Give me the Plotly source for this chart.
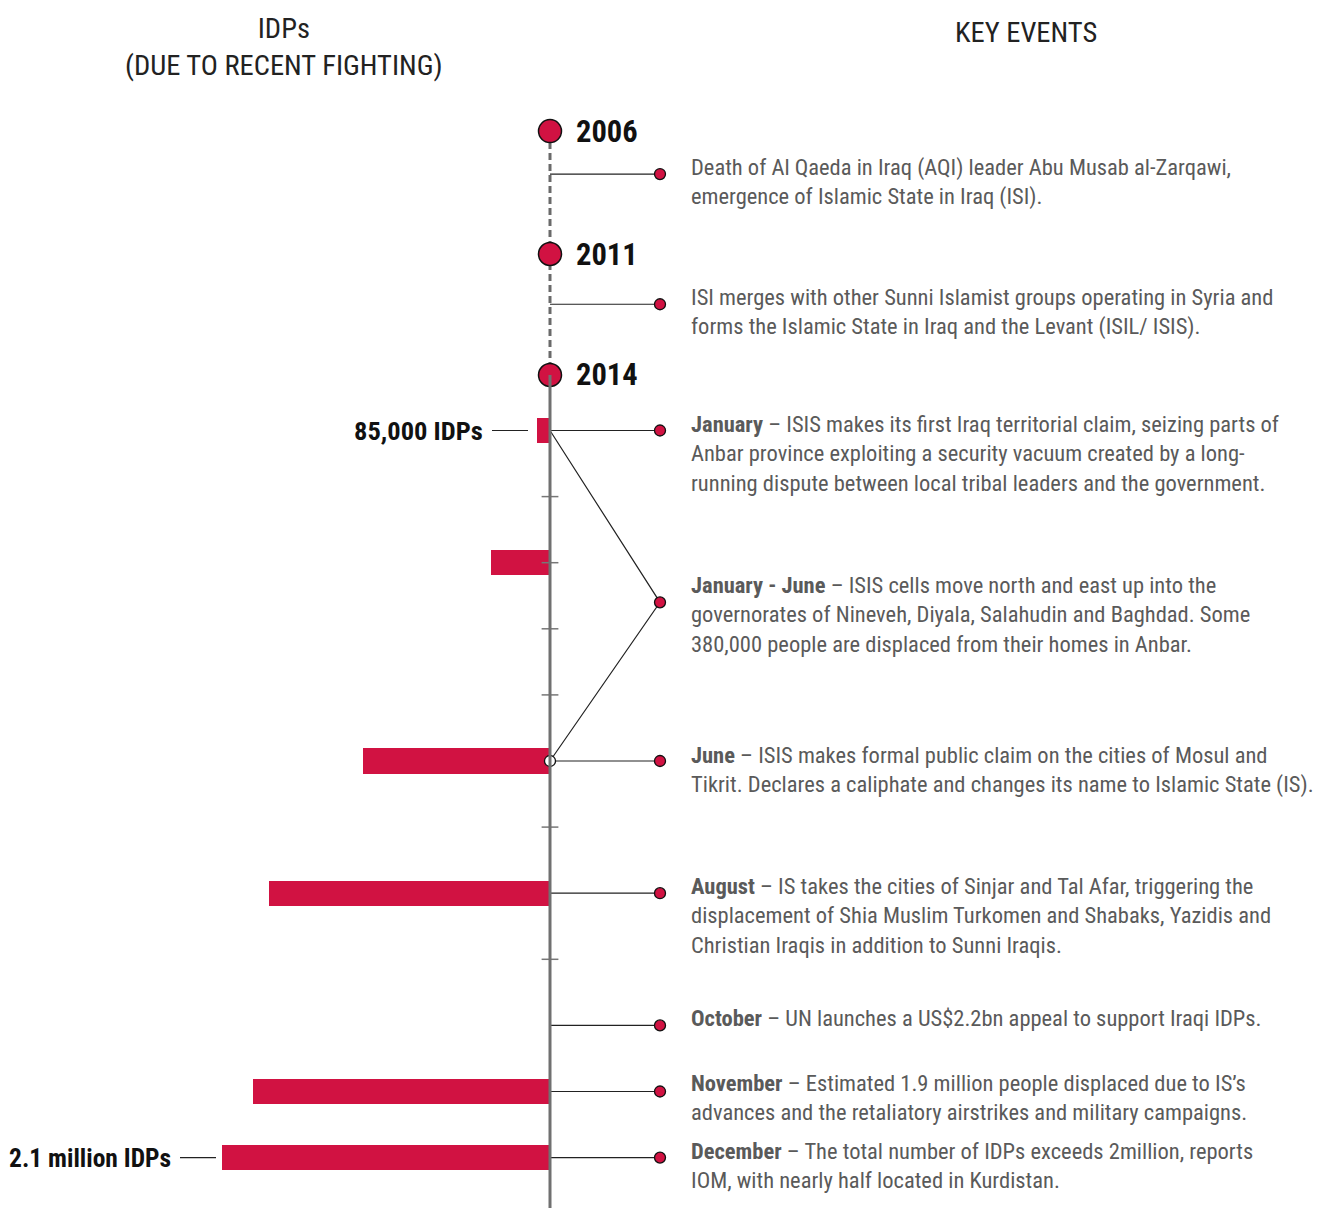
import plotly.graph_objects as go

# ---------------- data ----------------
months = ["Jan", "Feb", "Mar", "Apr", "May", "Jun", "Jul", "Aug", "Sep", "Oct", "Nov", "Dec"]
bar_months = [0, 2, 5, 7, 10, 11]              # month index (2014)
bar_idps_m = [0.085, 0.38, 1.2, 1.8, 1.9, 2.1]  # IDPs, millions
tick_months = [1, 2, 3, 4, 6, 8]

years = ["2006", "2011", "2014"]
year_pos = [-4.53, -2.67, -0.84]               # position on the timeline (month units)

event_pos = [-3.88, -1.91, 0, 2.6, 5, 7, 9, 10, 11]
event_text = [
    "Death of Al Qaeda in Iraq (AQI) leader Abu Musab al-Zarqawi,<br>emergence of Islamic State in Iraq (ISI).",
    "ISI merges with other Sunni Islamist groups operating in Syria and<br>forms the Islamic State in Iraq and the Levant (ISIL/ ISIS).",
    "<b>January</b> – ISIS makes its first Iraq territorial claim, seizing parts of<br>Anbar province exploiting a security vacuum created by a long-<br>running dispute between local tribal leaders and the government.",
    "<b>January - June</b> – ISIS cells move north and east up into the<br>governorates of Nineveh, Diyala, Salahudin and Baghdad. Some<br>380,000 people are displaced from their homes in Anbar.",
    "<b>June</b> – ISIS makes formal public claim on the cities of Mosul and<br>Tikrit. Declares a caliphate and changes its name to Islamic State (IS).",
    "<b>August</b> – IS takes the cities of Sinjar and Tal Afar, triggering the<br>displacement of Shia Muslim Turkomen and Shabaks, Yazidis and<br>Christian Iraqis in addition to Sunni Iraqis.",
    "<b>October</b> – UN launches a US$2.2bn appeal to support Iraqi IDPs.",
    "<b>November</b> – Estimated 1.9 million people displaced due to IS’s<br>advances and the retaliatory airstrikes and military campaigns.",
    "<b>December</b> – The total number of IDPs exceeds 2million, reports<br>IOM, with nearly half located in Kurdistan.",
]
range_event = (0, 5, 2.6)   # Jan-June event joins January and June

labels = ["85,000 IDPs", "2.1 million IDPs"]
label_months = [0, 11]

# ---------------- style / layout ----------------
W, H = 1327, 1208
RED = "#d11242"
TXT = "#5a5a5a"
FONT = "Roboto Condensed, Liberation Sans Narrow, Arial Narrow, Roboto, sans-serif"
PX_PER_MONTH = 66.1
Y0_PX = 430.5           # pixel row of January
PX_PER_M = 156.2        # pixels per million IDPs
X0_PX = 550             # pixel column of the timeline axis
DOT_X = -110 / PX_PER_M  # end of connectors (axis units, right of the line)

def py(px):
    return (px - Y0_PX) / PX_PER_MONTH

fig = go.Figure()

# bars
fig.add_trace(go.Bar(
    x=bar_idps_m, y=bar_months, orientation="h", width=0.38,
    marker=dict(color=RED, line=dict(width=0)), hoverinfo="skip", showlegend=False,
))

# axis line: dashed before 2014, solid after
fig.add_shape(type="line", xref="x", yref="y", x0=0, x1=0, y0=year_pos[0], y1=year_pos[2],
              line=dict(color="#6a6a6a", width=3, dash="7px,4px"), layer="below")
fig.add_shape(type="line", xref="x", yref="y", x0=0, x1=0, y0=year_pos[2], y1=py(H + 5),
              line=dict(color="#707070", width=3), layer="above")

# month ticks
fig.add_trace(go.Scatter(
    x=[0] * len(tick_months), y=tick_months, mode="markers",
    marker=dict(symbol="line-ew", size=12, line=dict(color="#777777", width=1.5)),
    hoverinfo="skip", showlegend=False,
))

# connectors
cx, cy = [], []
for p in event_pos:
    if p == range_event[2]:
        continue
    cx += [0, DOT_X, None]
    cy += [p, p, None]
a, b, m = range_event
cx += [0, DOT_X, 0, None]
cy += [a, m, b, None]
fig.add_trace(go.Scatter(x=cx, y=cy, mode="lines", line=dict(color="#222222", width=1.2),
                         hoverinfo="skip", showlegend=False))

# connector dots
fig.add_trace(go.Scatter(
    x=[DOT_X] * len(event_pos), y=event_pos, mode="markers",
    marker=dict(size=11, color=RED, line=dict(color="#111111", width=1.3)),
    hoverinfo="skip", showlegend=False,
))
# white junction dot at June
fig.add_trace(go.Scatter(
    x=[0], y=[range_event[1]], mode="markers",
    marker=dict(size=11, color="white", line=dict(color="#111111", width=1.3)),
    hoverinfo="skip", showlegend=False,
))
# year circles
fig.add_trace(go.Scatter(
    x=[0] * len(years), y=year_pos, mode="markers",
    marker=dict(size=23, color=RED, line=dict(color="#111111", width=1.5)),
    hoverinfo="skip", showlegend=False,
))

annotations = []
for yl, yp in zip(years, year_pos):
    annotations.append(dict(
        x=574 / W, xref="paper", y=yp, yref="y", xanchor="left", yanchor="middle",
        showarrow=False, text=f"<b>{yl}</b>",
        font=dict(family=FONT, size=30.5, color="#111111"),
    ))

# event texts
first_line_offset = [6, 6, 6, 16, 5, 6, 6, 8, 6]
for p, t, off in zip(event_pos, event_text, first_line_offset):
    line_px = Y0_PX + p * PX_PER_MONTH - off
    annotations.append(dict(
        x=689 / W, xref="paper", y=py(line_px - 16), yref="y",
        xanchor="left", yanchor="top", align="left", showarrow=False,
        text=t, font=dict(family=FONT, size=22.5, color=TXT),
    ))

# IDP labels with leader lines
label_right_px = [485, 173]
label_sizes = [26.5, 25.5]
lead_px = [(492, 528), (180, 216)]
for lab, mo, rp, fs, (l0, l1) in zip(labels, label_months, label_right_px, label_sizes, lead_px):
    annotations.append(dict(
        x=rp / W, xref="paper", y=mo, yref="y", xanchor="right", yanchor="middle",
        showarrow=False, text=f"<b>{lab}</b>",
        font=dict(family=FONT, size=fs, color="#111111"),
    ))
    fig.add_shape(type="line", xref="paper", yref="y", x0=l0 / W, x1=l1 / W, y0=mo, y1=mo,
                  line=dict(color="#222222", width=1.2))

# headers
annotations.append(dict(x=284 / W, xref="paper", y=1 - 47 / H, yref="paper",
                        xanchor="center", yanchor="middle", showarrow=False,
                        text="IDPs<br>(DUE TO RECENT FIGHTING)",
                        font=dict(family=FONT, size=28.5, color="#222222")))
annotations.append(dict(x=1026 / W, xref="paper", y=1 - 32 / H, yref="paper",
                        xanchor="center", yanchor="middle", showarrow=False,
                        text="KEY EVENTS",
                        font=dict(family=FONT, size=28.5, color="#222222")))

fig.update_layout(
    width=W, height=H, margin=dict(l=0, r=0, t=0, b=0),
    paper_bgcolor="white", plot_bgcolor="white",
    xaxis=dict(range=[X0_PX / PX_PER_M, -(W - X0_PX) / PX_PER_M], visible=False, fixedrange=True),
    yaxis=dict(range=[py(H), py(0)], visible=False, fixedrange=True),
    annotations=annotations, bargap=0, showlegend=False,
    font=dict(family=FONT),
)

fig.write_html("out.html", config={"displayModeBar": False},
               post_script="document.body.style.margin='0';document.body.style.overflow='hidden';")
